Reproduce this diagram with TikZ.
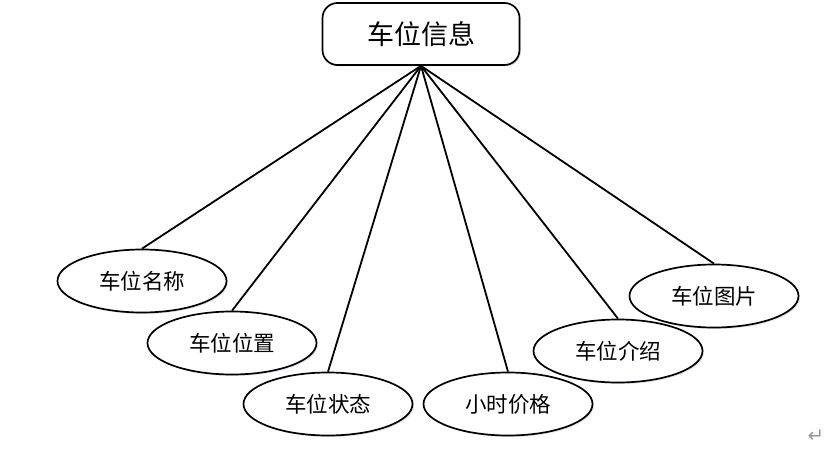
\documentclass[tikz,border=0pt]{standalone}
\usepackage{fontspec}
\setmainfont{Liberation Sans}
\newfontfamily\cjk{Noto Sans CJK SC}
\newfontfamily\symfont{DejaVu Sans}
\usepackage{tikz}
\usetikzlibrary{shapes.geometric, positioning, shadows}
\definecolor{glow}{HTML}{C8D4E8}

\begin{document}
\begin{tikzpicture}[
    x=1pt, y=-1pt,
    entity/.style={rectangle, rounded corners=15pt, draw=black, line width=1.7pt, fill=white,
                   minimum width=197pt, minimum height=62pt, inner sep=0pt,
                   font=\cjk\fontsize{27}{30}\selectfont,
                   drop shadow={shadow xshift=1.5pt, shadow yshift=-1.5pt, fill=glow, opacity=0.6}},
    attr/.style={ellipse, draw=black, line width=1.7pt, fill=white,
                 minimum width=169pt, minimum height=63pt, inner sep=0pt,
                 font=\cjk\fontsize{21.5}{24}\selectfont,
                 drop shadow={shadow xshift=1.5pt, shadow yshift=-1.5pt, fill=glow, opacity=0.6}},
    link/.style={line width=1.8pt, draw=black}
]
    \useasboundingbox (0,0) rectangle (837,449);
    % attributes first, lines end on their tops
    \node[attr] (name)  at (142,281) {车位名称};
    \node[attr] (place) at (232,343) {车位位置};
    \node[attr] (state) at (328,404) {车位状态};
    \node[attr] (price) at (508,404) {小时价格};
    \node[attr] (intro) at (618,351) {车位介绍};
    \node[attr] (photo) at (714,296) {车位图片};
    \node[entity] (info) at (421,34) {车位信息};
    \foreach \a in {name, place, state, price, intro, photo}
        \draw[link] (info.south) -- (\a.north);
    \node[text=black!40, inner sep=0pt, font=\symfont\fontsize{20}{20}\selectfont] (mark) at (816,436) {↵};
\end{tikzpicture}
\end{document}
